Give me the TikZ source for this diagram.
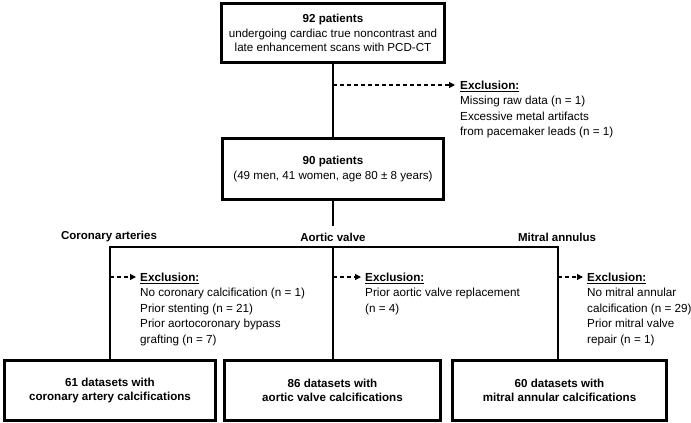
\documentclass[tikz,border=0pt]{standalone}
\usepackage{fontspec}
\setmainfont{Liberation Sans}
\usetikzlibrary{arrows.meta}
\begin{document}
\begin{tikzpicture}[x=1pt,y=-1pt,
  box/.style={draw, line width=3pt, inner sep=0pt, align=center, font=\fontsize{11.6}{14.5}\selectfont},
  bbox/.style={box, minimum height=60pt, font=\fontsize{11.6}{14.5}\selectfont\bfseries},
  conn/.style={line width=1.2pt},
  excl/.style={dash pattern=on 4pt off 3pt, line width=1.2pt, -{Triangle[length=6pt,width=6pt]}},
  extext/.style={anchor=north west, align=left, inner sep=0pt, font=\fontsize{11.7}{15.5}\selectfont},
  lab/.style={font=\fontsize{11.5}{14}\selectfont\bfseries, inner sep=0pt}
]
\useasboundingbox (0,0) rectangle (691,423);
% main boxes
\node[box, minimum width=223pt, minimum height=59pt] (top) at (333,33)
  {\textbf{92 patients}\\undergoing cardiac true noncontrast and\\late enhancement scans with PCD-CT};
\node[box, minimum width=221pt, minimum height=61pt] (mid) at (333,169)
  {\textbf{90 patients}\\(49 men, 41 women, age 80 ± 8 years)};
\node[bbox, minimum width=211pt] (b1) at (110,390.5)
  {61 datasets with\\coronary artery calcifications};
\node[bbox, minimum width=216pt] (b2) at (332.5,390.5)
  {86 datasets with\\aortic valve calcifications};
\node[bbox, minimum width=214pt] (b3) at (559.5,390.5)
  {60 datasets with\\mitral annular calcifications};
% labels
\node[lab] (lc) at (109,237) {Coronary arteries};
\node[lab] (la) at (333,237) {Aortic valve};
\node[lab] (lm) at (557,237) {Mitral annulus};
% connectors
\coordinate (split) at (333,226);
\coordinate (h1) at (110,247);
\coordinate (h2) at (333,247);
\coordinate (h3) at (558,247);
\draw[conn] (top.south) -- (mid.north);
\draw[conn] (mid.south) -- (split);
\draw[conn] (h1 |- b1.north) -- (h1) -- (h3) -- (h3 |- b3.north);
\draw[conn] (h2) -- (h2 |- b2.north);
% exclusions
\coordinate (e0s) at (333,85);  \coordinate (e0t) at (455,85);
\coordinate (e1s) at (110,277); \coordinate (e1t) at (136,277);
\coordinate (e2s) at (333,277); \coordinate (e2t) at (361,277);
\coordinate (e3s) at (558,277); \coordinate (e3t) at (583,277);
\draw[excl] (e0s) -- (e0t);
\draw[excl] (e1s) -- (e1t);
\draw[excl] (e2s) -- (e2t);
\draw[excl] (e3s) -- (e3t);
\node[extext] (x0) at (460,80.7) {\textbf{\underline{Exclusion:}}\\Missing raw data (n = 1)\\Excessive metal artifacts\\from pacemaker leads (n = 1)};
\node[extext] (x1) at (140,272.7) {\textbf{\underline{Exclusion:}}\\No coronary calcification (n = 1)\\Prior stenting (n = 21)\\Prior aortocoronary bypass\\grafting (n = 7)};
\node[extext] (x2) at (365,272.7) {\textbf{\underline{Exclusion:}}\\Prior aortic valve replacement\\(n = 4)};
\node[extext] (x3) at (587,272.7) {\textbf{\underline{Exclusion:}}\\No mitral annular\\calcification (n = 29)\\Prior mitral valve\\repair (n = 1)};
\end{tikzpicture}
\end{document}
